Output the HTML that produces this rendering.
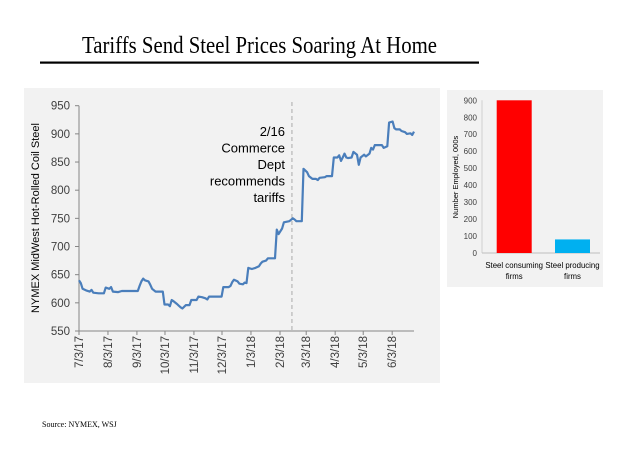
<!DOCTYPE html>
<html><head><meta charset="utf-8"><style>
body{margin:0;background:#fff;width:621px;height:455px;overflow:hidden}
svg text{font-family:"Liberation Sans",sans-serif}
</style></head><body>
<svg width="621" height="455" xmlns="http://www.w3.org/2000/svg">
<text x="82" y="53" font-family="Liberation Serif" style="font-family:'Liberation Serif',serif" font-size="24" textLength="355" lengthAdjust="spacingAndGlyphs">Tariffs  Send Steel Prices Soaring At Home</text>
<rect x="40" y="61.5" width="439" height="2.2" fill="#000"/>
<rect x="24" y="88" width="416" height="295" fill="#f2f2f2"/>
<rect x="447" y="90" width="156" height="197" fill="#f2f2f2"/>
<g id="left"></g>
<g id="right"></g>
<text x="42" y="427" font-family="Liberation Serif" style="font-family:'Liberation Serif',serif" font-size="8">Source: NYMEX, WSJ</text>
</svg>
<script>
const days=[0,2,4,8,12,14,16,22,28,30,34,36,38,44,48,56,62,66,68,70,72,74,78,80,82,86,94,96,100,102,104,106,110,112,114,116,118,120,124,126,132,134,138,142,144,146,150,160,162,168,170,172,174,178,180,184,186,188,190,194,198,202,204,206,210,212,220,222,224,228,230,236,240,242,244,250,252,256,258,262,266,268,270,276,278,284,286,290,292,294,296,298,300,302,306,308,312,314,316,320,322,326,328,330,332,340,342,346,348,352,354,356,360,362,366,368,372,374,376];
const prices=[640,635,625,622,620,623,618,617,617,627,625,628,620,619,621,621,621,621,630,638,643,640,638,632,625,620,620,597,597,594,605,603,598,595,592,590,593,596,596,605,605,611,610,608,606,611,611,611,628,628,630,637,641,638,634,633,636,635,662,660,662,665,670,673,675,679,679,730,722,732,743,745,750,748,745,745,838,832,825,820,820,818,822,823,825,825,858,858,862,852,858,865,858,857,858,868,863,845,858,863,860,865,875,872,880,880,875,878,920,922,910,908,908,905,903,900,901,898,904];
const yTicks=[550,600,650,700,750,800,850,900,950];
const xTickLabels=["7/3/17","8/3/17","9/3/17","10/3/17","11/3/17","12/3/17","1/3/18","2/3/18","3/3/18","4/3/18","5/3/18","6/3/18"];
const xTickPos=[0,32.5,65,96.5,129,160.5,193,225.6,255,287.5,319,351.5];
const markerPos=239;
const barCats=["Steel consuming firms","Steel producing firms"];
const barVals=[900,80];
const barTicks=[0,100,200,300,400,500,600,700,800,900];
const NS="http://www.w3.org/2000/svg";
function mk(p,t,a,txt){const e=document.createElementNS(NS,t);for(const k in a)e.setAttribute(k,a[k]);if(txt!=null)e.textContent=txt;p.appendChild(e);return e;}
const L=document.getElementById('left');
const xs=d=>79+d*0.891, ys=v=>331-(v-550)*(225.3/400);
mk(L,'line',{x1:79,y1:ys(950),x2:79,y2:331,stroke:'#868686','stroke-width':1});
mk(L,'line',{x1:79,y1:331,x2:414,y2:331,stroke:'#868686','stroke-width':1});
yTicks.forEach(v=>{
 const t=mk(L,'text',{x:70,y:ys(v)+4,'text-anchor':'end','font-size':11.5,fill:'#404040'},v);
 
 
 mk(L,'line',{x1:75,y1:ys(v),x2:79,y2:ys(v),stroke:'#868686'});
});
xTickLabels.forEach((s,i)=>{
 const x=xs(xTickPos[i]);
 mk(L,'line',{x1:x,y1:331,x2:x,y2:335,stroke:'#868686'});
 const t=mk(L,'text',{x:0,y:0,'text-anchor':'end','font-size':11.5,fill:'#404040',transform:`translate(${x+4},336) rotate(-90)`},s);
 
 
});
const yt=mk(L,'text',{x:0,y:0,'text-anchor':'middle','font-size':11,fill:'#000',transform:`translate(39,218) rotate(-90)`},'NYMEX MidWest Hot-Rolled Coil Steel');


const mx=xs(markerPos);
const dl=mk(L,'line',{x1:mx,y1:102,x2:mx,y2:331,stroke:'#aaaaaa','stroke-dasharray':'4,3','stroke-width':1});


["2/16","Commerce","Dept","recommends","tariffs"].forEach((s,i)=>{
 const t=mk(L,'text',{x:285,y:136+i*16.5,'text-anchor':'end','font-size':13,fill:'#000'},s);
 
 
});
let d='';
days.forEach((dd,i)=>{const x=xs(dd),y=ys(prices[i]);d+=(i?'L':'M')+x.toFixed(1)+','+y.toFixed(1);});
const ln=mk(L,'path',{d:d,fill:'none',stroke:'#4a7ebb','stroke-width':2.2,'stroke-linejoin':'round'});


const R=document.getElementById('right');
const by=v=>253-v*(152.7/900);
mk(R,'line',{x1:482,y1:by(900),x2:482,y2:253,stroke:'#d0d0d0'});
mk(R,'line',{x1:482,y1:253,x2:600,y2:253,stroke:'#bfbfbf'});
barTicks.forEach(v=>{
 const t=mk(R,'text',{x:477,y:by(v)+3,'text-anchor':'end','font-size':8,fill:'#404040'},v);
 
 
});
const bx=[496.7,555],bw=35,cols=['#ff0000','#00b0f0'];
barVals.forEach((v,i)=>{
 const b=mk(R,'rect',{x:bx[i],y:by(v),width:bw,height:253-by(v),fill:cols[i]});
 
 
 const w=barCats[i].split(' ');
 const l1=w.slice(0,2).join(' '),l2=w.slice(2).join(' ');
 const c=bx[i]+bw/2;
 const t1=mk(R,'text',{x:c,y:268,'text-anchor':'middle','font-size':7.8,fill:'#000'},l1);
 
 
 const t2=mk(R,'text',{x:c,y:279,'text-anchor':'middle','font-size':7.8,fill:'#000'},l2);
 
 
});
const bt=mk(R,'text',{x:0,y:0,'text-anchor':'middle','font-size':7.5,fill:'#000',transform:`translate(458,177) rotate(-90)`},'Number Employed, 000s');


</script>
</body></html>
